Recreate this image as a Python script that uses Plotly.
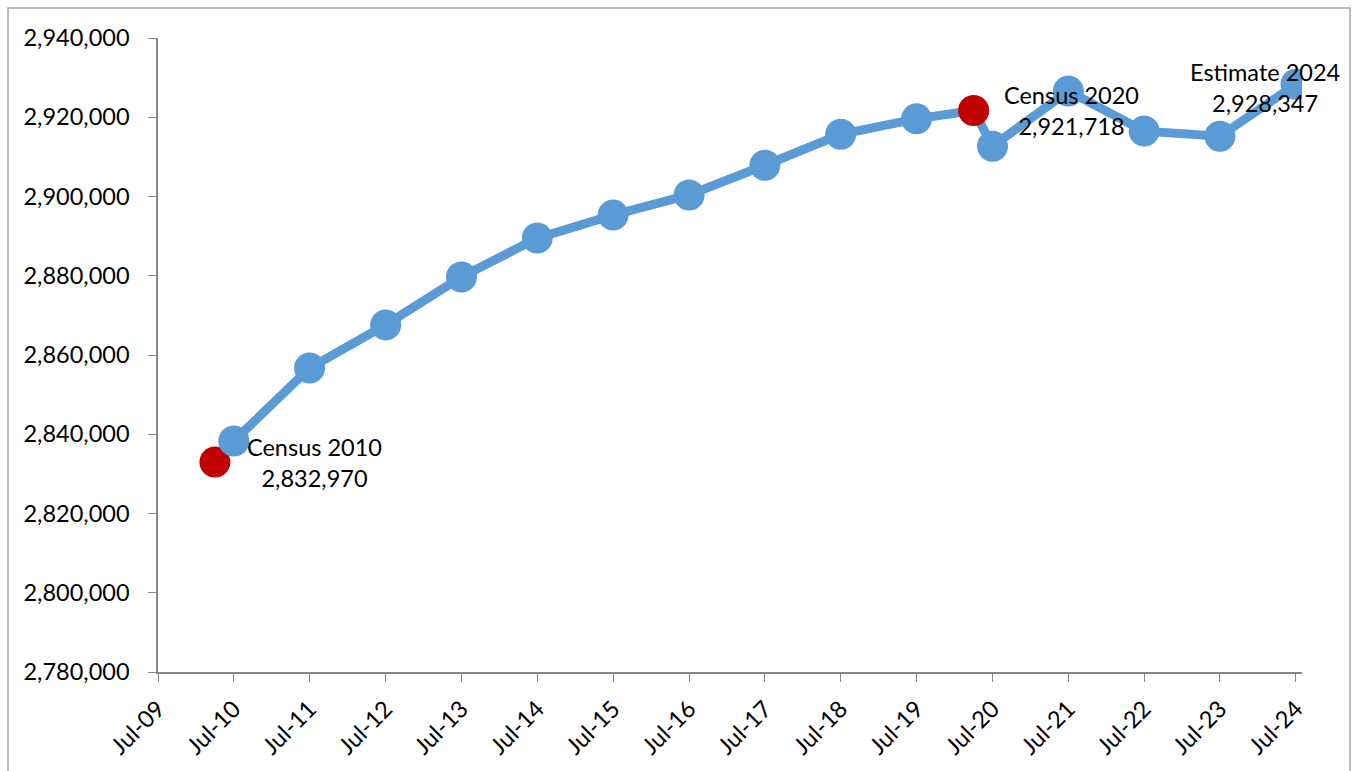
import plotly.graph_objects as go

# Data
dates = ["2010-04-01", "2010-07-01", "2011-07-01", "2012-07-01", "2013-07-01", "2014-07-01",
         "2015-07-01", "2016-07-01", "2017-07-01", "2018-07-01", "2019-07-01",
         "2020-04-01", "2020-07-01", "2021-07-01", "2022-07-01", "2023-07-01", "2024-07-01"]
population = [2832970, 2838300, 2856700, 2867600, 2879700, 2889500,
              2895300, 2900400, 2907900, 2915700, 2919600,
              2921718, 2912700, 2926600, 2916500, 2915200, 2928347]
is_census = [True, False, False, False, False, False, False, False, False, False, False,
             True, False, False, False, False, False]

tick_dates = [f"{y}-07-01" for y in range(2009, 2025)]
tick_labels = [f"Jul-{str(y)[2:]}" for y in range(2009, 2025)]

annot_dates = ["2010-04-01", "2020-04-01", "2024-07-01"]
annot_values = [2832970, 2921718, 2928347]
annot_texts = ["Census 2010<br>2,832,970", "Census 2020<br>2,921,718", "Estimate 2024<br>2,928,347"]
annot_shift = [(100, 0), (98, 0), (-31, -3)]

BLUE = "#5B9BD5"
RED = "#C00000"
FONT = "Lato, Calibri, Carlito, sans-serif"

fig = go.Figure()
fig.add_trace(go.Scatter(
    x=dates, y=population, mode="lines+markers",
    line=dict(color=BLUE, width=9),
    marker=dict(size=31, color=[RED if c else BLUE for c in is_census]),
    showlegend=False, hoverinfo="x+y",
))

for d, v, t, (dx, dy) in zip(annot_dates, annot_values, annot_texts, annot_shift):
    fig.add_annotation(x=d, y=v, text=t, showarrow=False, xshift=dx, yshift=dy,
                       font=dict(family=FONT, size=23.5, color="#000000"), align="center")

# outer chart border
L, R, T, B = 158, 1302, 38, 672
W, H = R - L, B - T
fig.add_shape(type="rect", xref="paper", yref="paper",
              x0=(8 - L) / W, x1=(1350 - L) / W, y0=(B - 780) / H, y1=(B - 8) / H,
              line=dict(color="#A6A6A6", width=1.5), layer="below")

fig.update_layout(
    width=1354, height=771,
    margin=dict(l=L, r=1354 - R, t=T, b=771 - B),
    paper_bgcolor="white", plot_bgcolor="white",
    font=dict(family=FONT, size=23.5, color="#000000"),
)
fig.update_xaxes(
    type="date", range=["2009-07-01", "2024-07-30"],
    tickmode="array", tickvals=tick_dates, ticktext=tick_labels,
    tickangle=-45, ticks="outside", ticklen=8, tickcolor="#868686",
    showline=True, linecolor="#868686", linewidth=1.5, showgrid=False, zeroline=False,
    tickfont=dict(family=FONT, size=23.5), ticklabelstandoff=4,
)
fig.update_yaxes(
    range=[2780000, 2940000], dtick=20000, tickformat=",d",
    ticks="outside", ticklen=8, tickcolor="#868686",
    showline=True, linecolor="#868686", linewidth=1.5, showgrid=False, zeroline=False,
    tickfont=dict(family=FONT, size=23.5), ticklabelstandoff=14,
)

fig.write_html("out.html")
